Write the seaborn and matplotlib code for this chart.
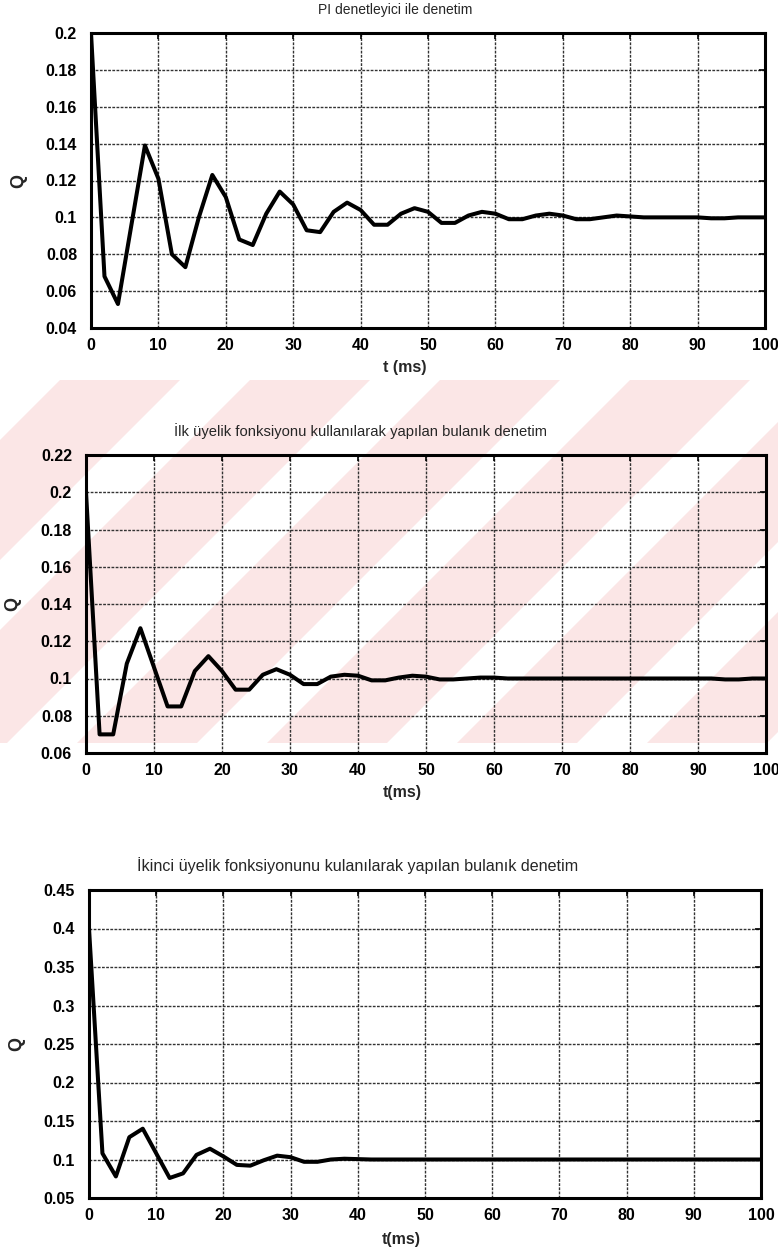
import matplotlib
matplotlib.use("Agg")
import matplotlib.pyplot as plt
from matplotlib.patches import Polygon, Rectangle
import seaborn as sns

# ---- data -----------------------------------------------------------------
t_ms = [0, 2, 4, 6, 8, 10, 12, 14, 16, 18, 20, 22, 24, 26, 28, 30, 32, 34, 36,
        38, 40, 42, 44, 46, 48, 50, 52, 54, 56, 58, 60, 62, 64, 66, 68, 70, 72,
        74, 76, 78, 80, 82, 84, 86, 88, 90, 92, 94, 96, 98, 100]

q_pi = [0.200, 0.068, 0.053, 0.096, 0.139, 0.121, 0.080, 0.073, 0.100, 0.123,
        0.111, 0.088, 0.085, 0.102, 0.114, 0.107, 0.093, 0.092, 0.103, 0.108,
        0.104, 0.096, 0.096, 0.102, 0.105, 0.103, 0.097, 0.097, 0.101, 0.103,
        0.102, 0.099, 0.099, 0.101, 0.102, 0.101, 0.099, 0.099, 0.100, 0.101,
        0.1005, 0.100, 0.100, 0.100, 0.100, 0.100, 0.0995, 0.0995, 0.100, 0.100,
        0.100]

q_fuzzy1 = [0.200, 0.070, 0.070, 0.108, 0.127, 0.106, 0.085, 0.085, 0.104, 0.112,
            0.104, 0.094, 0.094, 0.102, 0.105, 0.102, 0.097, 0.097, 0.101, 0.102,
            0.1015, 0.099, 0.099, 0.1005, 0.1015, 0.101, 0.0995, 0.0995, 0.100, 0.1005,
            0.1005, 0.100, 0.100, 0.100, 0.100, 0.100, 0.100, 0.100, 0.100, 0.100,
            0.100, 0.100, 0.100, 0.100, 0.100, 0.100, 0.100, 0.0995, 0.0995, 0.100,
            0.100]

q_fuzzy2 = [0.400, 0.108, 0.078, 0.129, 0.140, 0.108, 0.076, 0.082, 0.106, 0.114,
            0.104, 0.093, 0.092, 0.099, 0.105, 0.103, 0.097, 0.097, 0.100, 0.101,
            0.1005, 0.100, 0.100, 0.100, 0.100, 0.100, 0.100, 0.100, 0.100, 0.100,
            0.100, 0.100, 0.100, 0.100, 0.100, 0.100, 0.100, 0.100, 0.100, 0.100,
            0.100, 0.100, 0.100, 0.100, 0.100, 0.100, 0.100, 0.100, 0.100, 0.100,
            0.100]

titles = ["PI denetleyici ile denetim",
          "İlk üyelik fonksiyonu kullanılarak yapılan bulanık denetim",
          "İkinci üyelik fonksiyonunu kulanılarak yapılan bulanık denetim"]
xlabels = ["t (ms)", "t(ms)", "t(ms)"]
ylabel = "Q"

x_ticks = [0, 10, 20, 30, 40, 50, 60, 70, 80, 90, 100]
y_ticks_pi = [0.04, 0.06, 0.08, 0.10, 0.12, 0.14, 0.16, 0.18, 0.20]
y_labels_pi = ["0.04", "0.06", "0.08", "0.1", "0.12", "0.14", "0.16", "0.18", "0.2"]
y_ticks_f1 = [0.06, 0.08, 0.10, 0.12, 0.14, 0.16, 0.18, 0.20, 0.22]
y_labels_f1 = ["0.06", "0.08", "0.1", "0.12", "0.14", "0.16", "0.18", "0.2", "0.22"]
y_ticks_f2 = [0.05, 0.10, 0.15, 0.20, 0.25, 0.30, 0.35, 0.40, 0.45]
y_labels_f2 = ["0.05", "0.1", "0.15", "0.2", "0.25", "0.3", "0.35", "0.4", "0.45"]

# ---- style ----------------------------------------------------------------
sns.set_theme(style="white")
plt.rcParams["font.family"] = ["Liberation Sans", "DejaVu Sans"]

W, H = 778, 1258
fig = plt.figure(figsize=(W / 100, H / 100), dpi=100)
fig.patch.set_facecolor("white")


def rect(x0, y0, x1, y1):
    """pixel box (top-left / bottom-right) -> figure fraction [l, b, w, h]"""
    return [x0 / W, 1 - y1 / H, (x1 - x0) / W, (y1 - y0) / H]


# light red diagonal stripes in the page background behind the middle chart
bg = fig.add_axes([0, 0, 1, 1], zorder=-10)
bg.set_xlim(0, W)
bg.set_ylim(H, 0)
bg.axis("off")
band_top, band_bot = 380, 743
pink = "#fbe6e6"
clip = Rectangle((0, band_top), W, band_bot - band_top, transform=bg.transData,
                 facecolor="none", edgecolor="none")
for c in range(250, 1700, 190):
    pts = [(c - band_top, band_top), (c + 120 - band_top, band_top),
           (c + 120 - band_bot, band_bot), (c - band_bot, band_bot)]
    poly = Polygon(pts, closed=True, facecolor=pink, edgecolor="none")
    bg.add_patch(poly)
    poly.set_clip_path(clip)

panels = [
    (rect(91, 33, 765, 328), q_pi, y_ticks_pi, y_labels_pi, (0.04, 0.20), 10.0, 0.452, -0.108),
    (rect(86, 455, 766, 753), q_fuzzy1, y_ticks_f1, y_labels_f1, (0.06, 0.22), 10.6, 0.403, -0.107),
    (rect(89, 890, 761, 1198), q_fuzzy2, y_ticks_f2, y_labels_f2, (0.05, 0.45), 11.6, 0.399, -0.112),
]

for i, (box, q, yt, yl, ylim, tsize, tx, xl_y) in enumerate(panels):
    ax = fig.add_axes(box)
    ax.patch.set_alpha(0)
    sns.lineplot(x=t_ms, y=q, ax=ax, color="black", linewidth=2.9, zorder=5)
    ax.set_xlim(0, 100)
    ax.set_ylim(*ylim)
    ax.set_xticks(x_ticks)
    ax.set_xticklabels([str(v) for v in x_ticks])
    ax.set_yticks(yt)
    ax.set_yticklabels(yl)
    ax.grid(True, color="#333333", linestyle=(0, (2, 1)), linewidth=1.0)
    ax.tick_params(direction="in", length=4, width=1.2, top=True, right=True,
                   labelsize=11.5, pad=7, colors="black")
    ax.tick_params(axis="y", pad=10)
    for lab in ax.get_xticklabels() + ax.get_yticklabels():
        lab.set_fontweight("bold")
    for s in ax.spines.values():
        s.set_visible(True)
        s.set_linewidth(2.2)
        s.set_color("black")
    ax.set_title(titles[i], fontsize=tsize, pad=14, x=tx)
    ax.set_xlabel(xlabels[i], fontsize=11.5, fontweight="bold")
    ax.xaxis.set_label_coords(0.465, xl_y)
    ax.set_ylabel(ylabel, fontsize=13, fontweight="bold")
    ax.yaxis.set_label_coords(-0.095, 0.5)

fig.savefig("out.png", dpi=100)
